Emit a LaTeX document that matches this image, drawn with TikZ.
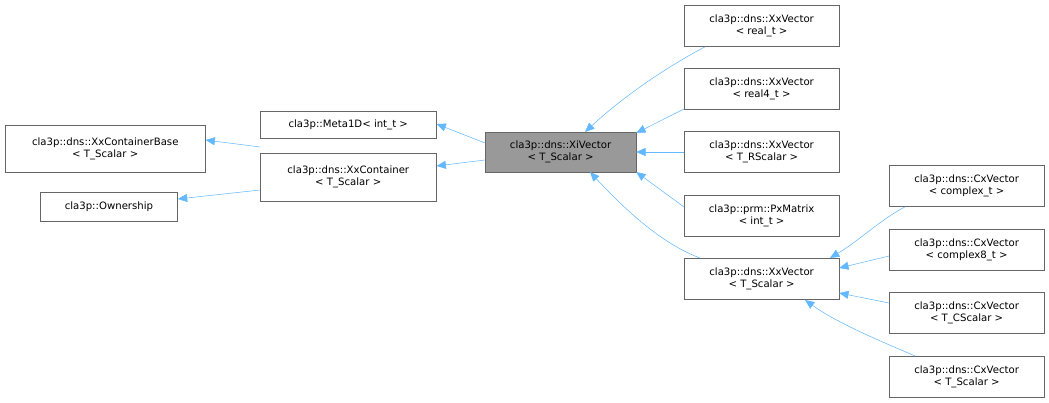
\documentclass[tikz,border=0pt]{standalone}
\usepackage{fontspec}
\setmainfont{DejaVu Sans}
\usetikzlibrary{arrows.meta, positioning}
\definecolor{edgeblue}{HTML}{63B8FF}
\tikzset{
    cls/.style={rectangle, draw=black!60, fill=white, align=center, anchor=north west,
        inner sep=1pt, font=\fontsize{7.6}{9}\selectfont},
    cur/.style={cls, fill=black!40},
    inh/.style={{Triangle[open, fill=edgeblue, length=7pt, width=6pt]}-, draw=edgeblue, thin}
}
\begin{document}
\begin{tikzpicture}[x=0.75pt, y=-0.75pt]
    \useasboundingbox (0,0) rectangle (1049,403);
    % left column
    \node[cls, minimum width=150pt, minimum height=35pt] (Base) at (5,125) {cla3p::dns::XxContainerBase\\< T\_Scalar >};
    \node[cls, minimum width=103pt, minimum height=22pt] (Own) at (40,192) {cla3p::Ownership};
    % middle
    \node[cls, minimum width=132pt, minimum height=20pt] (Meta) at (260,111) {cla3p::Meta1D< int\_t >};
    \node[cls, minimum width=132pt, minimum height=36pt] (Cont) at (260,153) {cla3p::dns::XxContainer\\< T\_Scalar >};
    \node[cur, minimum width=113pt, minimum height=30pt] (XiV) at (485,132) {cla3p::dns::XiVector\\< T\_Scalar >};
    % right column
    \node[cls, minimum width=116pt, minimum height=31pt] (Vr) at (684,5) {cla3p::dns::XxVector\\< real\_t >};
    \node[cls, minimum width=116pt, minimum height=31pt] (Vr4) at (684,68) {cla3p::dns::XxVector\\< real4\_t >};
    \node[cls, minimum width=116pt, minimum height=31pt] (VR) at (684,131) {cla3p::dns::XxVector\\< T\_RScalar >};
    \node[cls, minimum width=116pt, minimum height=31pt] (Px) at (684,195) {cla3p::prm::PxMatrix\\< int\_t >};
    \node[cls, minimum width=116pt, minimum height=31pt] (VT) at (684,258) {cla3p::dns::XxVector\\< T\_Scalar >};
    % far right
    \node[cls, minimum width=116pt, minimum height=31pt] (Cc) at (889,165) {cla3p::dns::CxVector\\< complex\_t >};
    \node[cls, minimum width=116pt, minimum height=31pt] (Cc8) at (889,229) {cla3p::dns::CxVector\\< complex8\_t >};
    \node[cls, minimum width=116pt, minimum height=31pt] (CC) at (889,292) {cla3p::dns::CxVector\\< T\_CScalar >};
    \node[cls, minimum width=116pt, minimum height=31pt] (CT) at (889,356) {cla3p::dns::CxVector\\< T\_Scalar >};
    % inheritance
    \draw[inh] (Base.east |- 0,140) -- (Cont.west |- 0,147);
    \draw[inh] (Own.east |- 0,199) -- (Cont.west |- 0,190);
    \draw[inh] (Meta.east |- 0,124) -- (XiV.west |- 0,143);
    \draw[inh] (Cont.east |- 0,166) -- (XiV.west |- 0,160);
    \draw[inh] (585,132) .. controls (625,95) and (670,65) .. (Vr.south -| 705,0);
    \draw[inh] (XiV.east |- 0,133) -- (Vr4.west |- 0,109);
    \draw[inh] (XiV.east |- 0,152) -- (VR.west |- 0,152);
    \draw[inh] (XiV.east |- 0,172) -- (Px.west |- 0,207);
    \draw[inh] (590,172) .. controls (630,215) and (665,245) .. (VT.north -| 700,0);
    \draw[inh] (830,258) .. controls (860,240) and (880,220) .. (Cc.south -| 905,0);
    \draw[inh] (VT.east |- 0,268) -- (Cc8.west |- 0,256);
    \draw[inh] (VT.east |- 0,293) -- (CC.west |- 0,303);
    \draw[inh] (805,300) .. controls (840,325) and (890,345) .. (CT.north -| 915,0);
\end{tikzpicture}
\end{document}
